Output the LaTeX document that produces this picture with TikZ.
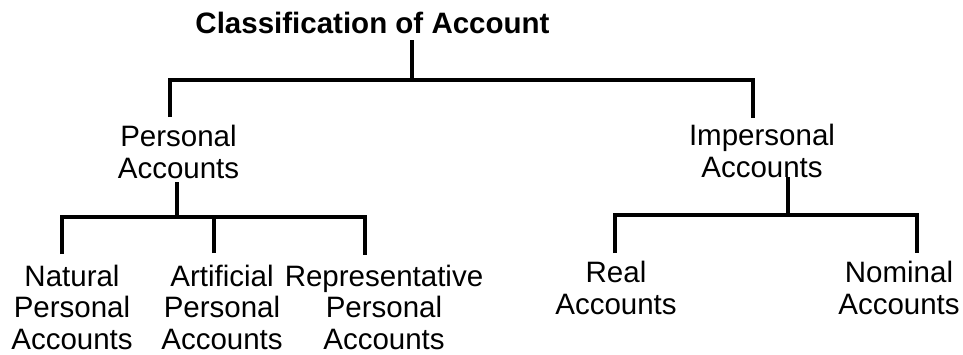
\documentclass[tikz,border=0pt]{standalone}
\usepackage{fontspec}
\setmainfont{Liberation Sans}
\begin{document}
\begin{tikzpicture}[x=1pt,y=-1pt,
  conn/.style={line width=3.1pt, line join=miter},
  lbl/.style={font=\fontsize{29.5}{31.5}\selectfont, align=center, inner sep=0pt, anchor=base},
  ttl/.style={font=\fontsize{29.5}{31.5}\selectfont\bfseries, inner sep=0pt, anchor=base}]
\useasboundingbox (0,0) rectangle (963,354);
\fill[white] (0,0) rectangle (963,354);

% labels (anchored at the baseline of their last line)
\node[ttl] (t) at (372.5,33) {Classification of Account};
\node[lbl] (p) at (178.5,178) {Personal\\Accounts};
\node[lbl] (i) at (762,177) {Impersonal\\Accounts};
\node[lbl] (n) at (72,349) {Natural\\Personal\\Accounts};
\node[lbl] (a) at (222,349.3) {Artificial\\Personal\\Accounts};
\node[lbl] (r) at (384,349.3) {Representative\\Personal\\Accounts};
\node[lbl] (re) at (616,314) {Real\\Accounts};
\node[lbl] (no) at (899,314) {Nominal\\Accounts};

% junctions and drop points
\coordinate (j0) at (412,80);
\coordinate (pTop) at (170,117);
\coordinate (iTop) at (753,118);
\coordinate (j1) at (177,217);
\coordinate (pBot) at (177,182);
\coordinate (nTop) at (62,254);
\coordinate (aTop) at (214,253);
\coordinate (rTop) at (365,255);
\coordinate (j2) at (788,215);
\coordinate (iBot) at (788,177);
\coordinate (reTop) at (615,253);
\coordinate (noTop) at (917,253);

% connectors
\draw[conn] (t.south -| j0) ++(0,7) -- (j0);
\draw[conn] (pTop) |- (j0) -| (iTop);
\draw[conn] (pBot) -- (j1);
\draw[conn] (nTop) |- (j1) -| (rTop);
\draw[conn] (aTop) -- (aTop |- j1);
\draw[conn] (iBot) -- (j2);
\draw[conn] (reTop) |- (j2) -| (noTop);
\end{tikzpicture}
\end{document}
